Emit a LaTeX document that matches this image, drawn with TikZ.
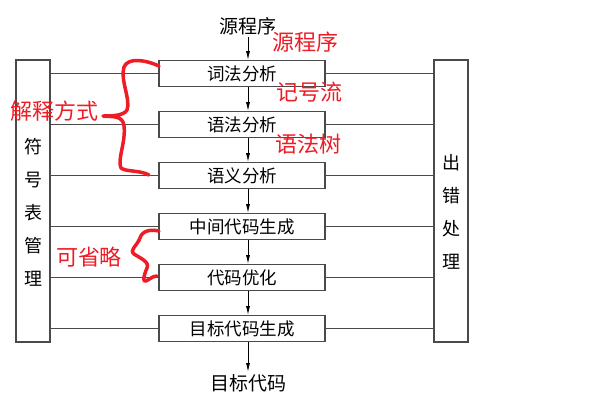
\documentclass[tikz,border=0pt]{standalone}
\usepackage{fontspec}
\setmainfont{Noto Sans CJK SC}
\usepackage{xcolor}
\usetikzlibrary{arrows.meta, positioning}

\definecolor{linegray}{HTML}{4A4A4A}
\definecolor{notered}{HTML}{EE1C25}

\begin{document}
\begin{tikzpicture}[
  x=1pt, y=-1pt,
  node distance=24.4pt,
  stage/.style={draw=linegray, line width=1.1pt, fill=white, minimum height=25.5pt, minimum width=166pt, inner sep=0pt, font=\fontsize{17.5}{19}\selectfont},
  side/.style={draw=linegray, line width=1.1pt, fill=white, minimum height=282pt, minimum width=34pt, inner sep=0pt},
  sidetext/.style={align=center, inner sep=0pt, font=\fontsize{18}{33}\selectfont},
  io/.style={inner sep=2pt, font=\fontsize{19}{21}\selectfont},
  link/.style={draw=linegray, line width=1.1pt},
  arr/.style={-{Latex[length=9pt, width=4pt]}, line width=0.9pt},
  note/.style={text=notered, inner sep=0pt, font=\fontsize{22}{24}\selectfont},
  redmark/.style={draw=notered, line width=3.5pt, line cap=round, line join=round}
]
\useasboundingbox (0,0) rectangle (600,402);

% side boxes
\node[side] (sym) at (33,201) {};
\node[side] (err) at (451,201) {};
\node[sidetext] (symtext) at (33,212) {符\\号\\表\\管\\理};
\node[sidetext] (errtext) at (451,212) {出\\错\\处\\理};

% phases
\node[stage] (lex) at (242,73.5) {词法分析};
\node[stage, below=of lex] (syn) {语法分析};
\node[stage, below=of syn] (sem) {语义分析};
\node[stage, below=of sem] (mid) {中间代码生成};
\node[stage, below=of mid] (opt) {代码优化};
\node[stage, below=of opt] (gen) {目标代码生成};

\node[io] (src) at (248,26) {源程序};
\node[io] (dst) at (248,383) {目标代码};

% links to the side boxes
\draw[link] (sym.east |- lex.west) -- (lex.west);
\draw[link] (lex.east) -- (err.west |- lex.east);
\draw[link] (sym.east |- syn.west) -- (syn.west);
\draw[link] (syn.east) -- (err.west |- syn.east);
\draw[link] (sym.east |- sem.west) -- (sem.west);
\draw[link] (sem.east) -- (err.west |- sem.east);
\draw[link] (sym.east |- mid.west) -- (mid.west);
\draw[link] (mid.east) -- (err.west |- mid.east);
\draw[link] (sym.east |- opt.west) -- (opt.west);
\draw[link] (opt.east) -- (err.west |- opt.east);
\draw[link] (sym.east |- gen.west) -- (gen.west);
\draw[link] (gen.east) -- (err.west |- gen.east);

% flow
\draw[arr] (src) -- (src |- lex.north);
\draw[arr] (lex.south -| src) -- (syn.north -| src);
\draw[arr] (syn.south -| src) -- (sem.north -| src);
\draw[arr] (sem.south -| src) -- (mid.north -| src);
\draw[arr] (mid.south -| src) -- (opt.north -| src);
\draw[arr] (opt.south -| src) -- (gen.north -| src);
\draw[arr] (gen.south -| src) -- (dst);

% red notes
\node[note] (nsrc) at (305,42) {源程序};
\node[note] (ntok) at (309,92) {记号流};
\node[note] (ntree) at (308,144) {语法树};
\node[note] (ninterp) at (54,111) {解释方式};
\node[note] (nskip) at (89,257) {可省略};

\draw[redmark] (159,66) .. controls (146,60) and (128,57) .. (124,67)
  .. controls (120,80) and (131,100) .. (127,110)
  .. controls (124,116) and (110,116) .. (103,116)
  .. controls (112,117) and (123,115) .. (124,126)
  .. controls (126,142) and (117,160) .. (121,168)
  .. controls (126,172) and (140,170) .. (149,175);
\draw[redmark] (159,231) .. controls (150,229) and (142,231) .. (140,238)
  .. controls (137,246) and (129,250) .. (134,254)
  .. controls (140,258) and (150,262) .. (147,268)
  .. controls (144,275) and (142,283) .. (146,281)
  .. controls (150,279) and (153,276) .. (157,276);
\end{tikzpicture}
\end{document}
